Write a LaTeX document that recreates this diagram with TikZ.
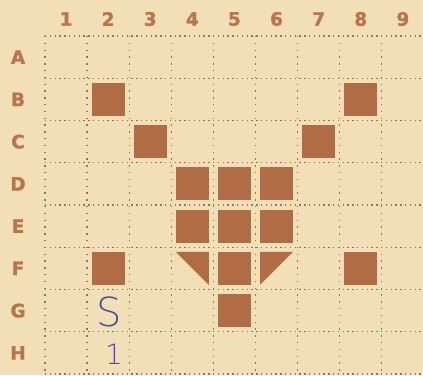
\documentclass[tikz,border=0pt]{standalone}
\usepackage{fontspec}
\newfontfamily\labfont{DejaVu Sans}[FakeBold=1.3]
\newfontfamily\handfont{DejaVu Sans ExtraLight}
\definecolor{paper}{HTML}{F2DFB8}
\definecolor{tile}{HTML}{B06D45}
\definecolor{labelc}{HTML}{B7774A}
\definecolor{dotc}{HTML}{967453}
\definecolor{pen}{HTML}{4A50A4}
\begin{document}
\begin{tikzpicture}[x=1pt,y=-1pt,
  hline/.style={dotc,line width=1.3pt,dash pattern=on 1.4pt off 3.4pt},
  vline/.style={dotc,line width=1.3pt,dash pattern=on 1.3pt off 5.5pt},
  lab/.style={labelc,font=\labfont\bfseries\fontsize{18.5}{19}\selectfont,inner sep=0pt},
  hand/.style={pen,inner sep=0pt}]
\fill[paper] (0,0) rectangle (423,375);
\useasboundingbox (0,0) rectangle (423,375);
\def\gx{45}\def\gy{36}\def\cw{42.1}\def\ch{42.25}
% grid lines
\foreach \j in {0,...,8}{
  \draw[hline] (\gx,{\gy+\ch*\j}) -- (423,{\gy+\ch*\j});
}
\foreach \i in {0,...,8}{
  \draw[vline] ({\gx+\cw*\i},\gy) -- ({\gx+\cw*\i},375);
}
% labels
\foreach \i in {1,...,9}{
  \node[lab] (c\i) at ({\gx+\cw*(\i-0.5)},19) {\i};
}
\foreach \l [count=\j] in {A,B,C,D,E,F,G,H}{
  \node[lab] (r\l) at (18,{\gy+\ch*(\j-0.5)}) {\l};
}
% tiles
\foreach \i/\j in {2/2,8/2,3/3,7/3,4/4,5/4,6/4,4/5,5/5,6/5,2/6,5/6,8/6,5/7}{
  \fill[tile] ({\gx+\cw*(\i-0.5)-16.5},{\gy+\ch*(\j-0.5)-16.5}) rectangle ++(33,33);
}
% triangles in F4 and F6
\fill[tile] ({\gx+\cw*3.5-16.5},{\gy+\ch*5.5-16.5}) -- ++(33,0) -- ++(0,33) -- cycle;
\fill[tile] ({\gx+\cw*5.5-16.5},{\gy+\ch*5.5-16.5}) -- ++(33,0) -- ++(-33,33) -- cycle;
% handwriting
\node[hand,font=\handfont\fontsize{40}{40}\selectfont] (s) at (109,312) {S};
\node[hand,font=\handfont\fontsize{28}{28}\selectfont] (one) at (114,354) {1};
\end{tikzpicture}
\end{document}
